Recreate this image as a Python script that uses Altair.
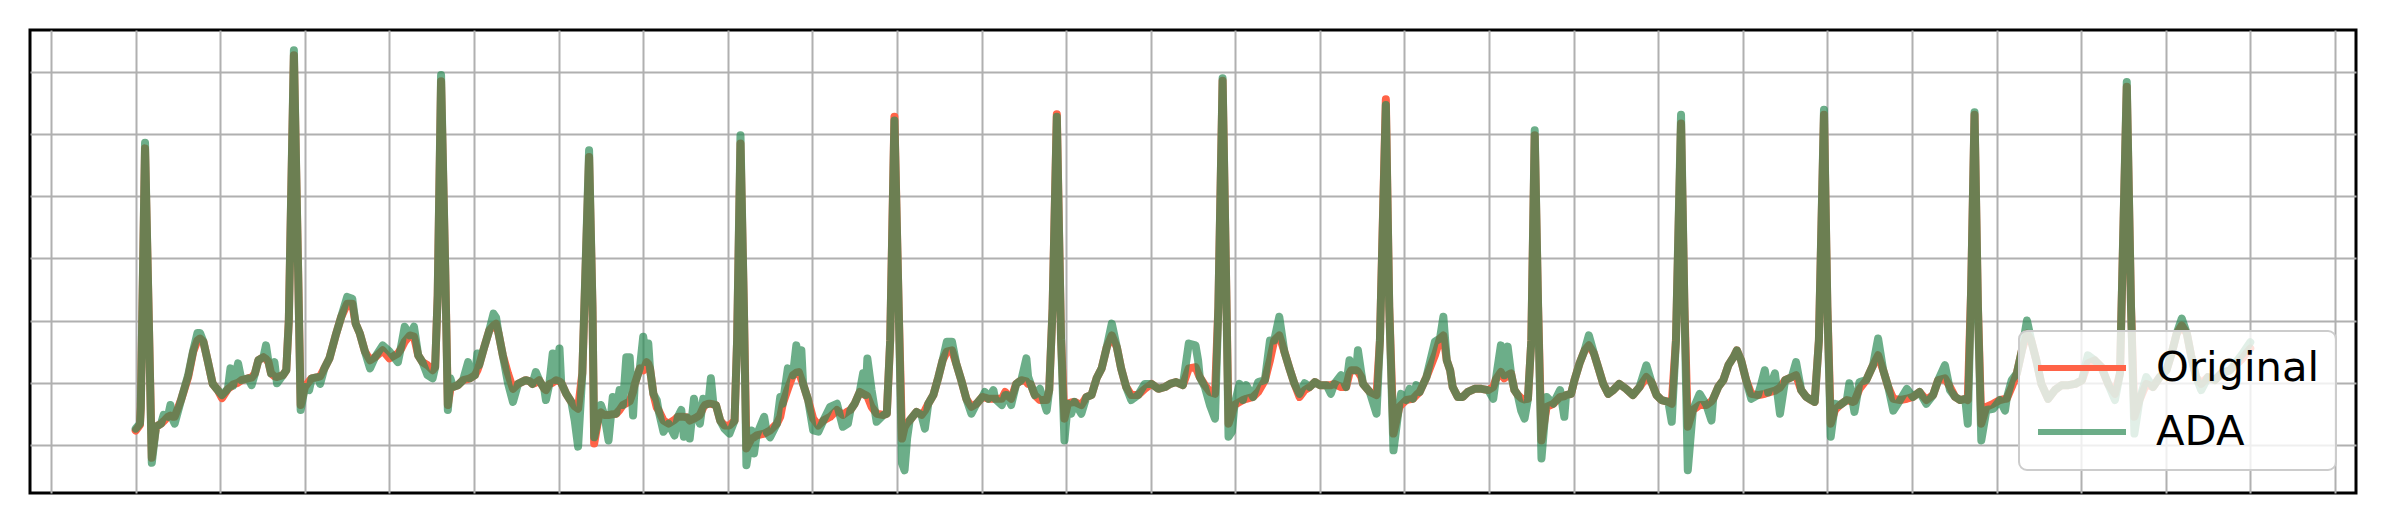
import altair as alt
import pandas as pd

# Sample index (x) and signal amplitude for the two series
X = [0, 5, 6, 11, 15, 19, 24, 30, 33, 38, 41, 44, 46, 54, 62, 68, 73, 76, 80, 85,
     91, 97, 102, 109, 112, 115, 121, 125, 133, 137, 141, 145, 151, 154, 157, 160, 164, 167, 174, 178,
     181, 187, 192, 195, 200, 205, 208, 215, 218, 223, 229, 237, 243, 250, 256, 260, 265, 271, 277, 283,
     292, 300, 310, 314, 318, 324, 329, 334, 339, 345, 351, 354, 357, 361, 366, 369, 372, 375, 381, 387,
     393, 395, 401, 404, 406, 412, 418, 423, 426, 429, 434, 440, 446, 452, 461, 466, 469, 473, 477, 483,
     485, 489, 493, 497, 501, 503, 509, 515, 519, 523, 528, 536, 540, 542, 548, 550, 554, 559, 564, 568,
     572, 576, 580, 584, 588, 590, 596, 600, 604, 606, 608, 612, 616, 618, 624, 630, 637, 641, 645, 648,
     652, 655, 660, 664, 667, 671, 673, 677, 680, 683, 686, 691, 696, 702, 708, 711, 715, 719, 722, 728,
     731, 734, 743, 746, 750, 758, 762, 765, 771, 777, 781, 784, 787, 789, 795, 801, 807, 813, 821, 829,
     836, 842, 845, 850, 856, 860, 863, 865, 870, 876, 884, 888, 892, 897, 902, 906, 909, 912, 915, 923,
     929, 933, 937, 943, 949, 954, 959, 965, 970, 976, 982, 988, 994, 1001, 1004, 1008, 1014, 1016, 1024, 1028,
     1030, 1035, 1041, 1047, 1053, 1055, 1058, 1063, 1069, 1077, 1080, 1084, 1089, 1094, 1098, 1102, 1106, 1110, 1118, 1124,
     1130, 1136, 1142, 1148, 1154, 1160, 1165, 1171, 1177, 1185, 1193, 1201, 1209, 1217, 1223, 1230, 1238, 1245, 1253, 1256,
     1258, 1264, 1270, 1276, 1280, 1285, 1289, 1292, 1296, 1299, 1305, 1309, 1313, 1321, 1327, 1335, 1341, 1346, 1352, 1358,
     1364, 1370, 1376, 1382, 1388, 1394, 1400, 1408, 1413, 1417, 1425, 1431, 1435, 1437, 1443, 1445, 1449, 1451, 1459, 1467,
     1471, 1478, 1482, 1487, 1494, 1496, 1502, 1506, 1510, 1514, 1518, 1526, 1536, 1542, 1546, 1550, 1554, 1557, 1563, 1569,
     1575, 1583, 1591, 1599, 1605, 1608, 1614, 1618, 1622, 1626, 1630, 1634, 1638, 1642, 1646, 1650, 1654, 1658, 1662, 1668,
     1676, 1684, 1689, 1691, 1697, 1701, 1707, 1713, 1718, 1724, 1729, 1735, 1741, 1747, 1754, 1762, 1770, 1778, 1786, 1792,
     1798, 1804, 1812, 1816, 1821, 1827, 1831, 1835, 1841, 1849, 1857, 1863, 1865, 1871, 1877, 1883, 1889, 1893, 1898, 1904,
     1910, 1918, 1922, 1926, 1930, 1938, 1944, 1950, 1958, 1963, 1969, 1975, 1981, 1985, 1990, 1996, 2000, 2004, 2009, 2015,
     2023, 2026, 2030, 2032, 2038, 2046, 2054, 2060, 2066, 2072, 2078, 2086, 2094, 2101, 2109, 2117, 2125, 2131, 2139, 2145,
     2151, 2157, 2163, 2166, 2170, 2174, 2178, 2182, 2188, 2196, 2204, 2210, 2212, 2218, 2224, 2230, 2236, 2241, 2247, 2253,
     2261, 2269, 2277, 2285, 2293, 2301, 2308, 2316, 2324, 2332, 2340, 2346, 2354, 2359, 2363, 2369, 2377, 2385, 2393, 2401,
     2407, 2413, 2419, 2425, 2430, 2436, 2442, 2450, 2458, 2466, 2476, 2490, 2500]

ORIGINAL = [0.23, 0.32, 0.60, 4.77, 2.30, -0.21, 0.29, 0.34, 0.38, 0.45, 0.47, 0.45, 0.45, 0.74, 1.09, 1.50, 1.68, 1.71, 1.66, 1.36,
            0.98, 0.88, 0.75, 0.90, 0.93, 0.97, 1.00, 1.04, 1.07, 1.08, 1.15, 1.36, 1.41, 1.38, 1.33, 1.15, 1.10, 1.09, 1.12, 1.20,
            2.00, 6.27, 2.80, 0.64, 0.93, 1.02, 1.07, 1.09, 1.10, 1.23, 1.39, 1.79, 2.06, 2.27, 2.27, 1.95, 1.79, 1.50, 1.36, 1.41,
            1.52, 1.39, 1.47, 1.55, 1.66, 1.76, 1.74, 1.44, 1.33, 1.28, 1.20, 1.25, 2.40, 5.85, 2.76, 0.64, 0.90, 0.93, 0.96, 1.04,
            1.06, 1.07, 1.12, 1.20, 1.28, 1.57, 1.84, 1.92, 1.95, 1.79, 1.44, 1.15, 0.90, 0.98, 1.04, 1.02, 0.98, 1.00, 1.04, 0.90,
            0.88, 0.98, 1.00, 1.04, 1.02, 1.00, 0.82, 0.69, 0.62, 0.58, 1.15, 4.63, 2.22, 0.02, 0.50, 0.52, 0.48, 0.48, 0.49, 0.50,
            0.56, 0.64, 0.67, 0.70, 0.85, 0.98, 1.23, 1.20, 1.33, 1.30, 1.23, 0.82, 0.60, 0.56, 0.39, 0.34, 0.40, 0.45, 0.45, 0.45,
            0.44, 0.39, 0.42, 0.45, 0.48, 0.60, 0.64, 0.66, 0.66, 0.65, 0.64, 0.39, 0.31, 0.31, 0.39, 1.68, 4.85, 2.22, -0.06, 0.10,
            0.12, 0.15, 0.18, 0.20, 0.23, 0.34, 0.45, 0.66, 0.90, 1.12, 1.16, 1.17, 1.05, 0.98, 0.72, 0.42, 0.31, 0.39, 0.45, 0.56,
            0.48, 0.54, 0.56, 0.66, 0.85, 0.82, 0.80, 0.78, 0.61, 0.50, 0.48, 0.50, 1.68, 5.28, 2.22, 0.10, 0.28, 0.35, 0.39, 0.53,
            0.48, 0.55, 0.66, 0.80, 1.09, 1.36, 1.50, 1.52, 1.31, 1.04, 0.74, 0.61, 0.66, 0.77, 0.76, 0.74, 0.74, 0.74, 0.74, 0.85,
            0.80, 0.74, 0.98, 1.04, 1.02, 0.98, 0.98, 0.80, 0.72, 0.72, 0.88, 2.20, 5.32, 1.70, 0.42, 0.66, 0.68, 0.69, 0.64, 0.77,
            0.80, 1.07, 1.23, 1.57, 1.76, 1.57, 1.23, 0.93, 0.80, 0.80, 0.90, 0.98, 0.90, 0.93, 0.98, 1.01, 0.96, 1.23, 1.25, 1.15,
            1.09, 0.96, 0.85, 0.82, 2.22, 5.86, 2.76, 0.34, 0.50, 0.64, 0.69, 0.72, 0.74, 0.77, 0.85, 1.04, 1.36, 1.68, 1.76, 1.50,
            1.23, 0.98, 0.77, 0.88, 0.93, 1.01, 0.96, 0.96, 0.96, 0.98, 0.93, 0.93, 1.15, 1.20, 1.20, 1.18, 1.09, 0.98, 0.85, 0.80,
            1.68, 5.56, 2.22, 0.18, 0.61, 0.64, 0.72, 0.73, 0.74, 0.80, 0.85, 1.09, 1.44, 1.71, 1.76, 1.36, 1.20, 0.93, 0.77, 0.77,
            0.85, 0.90, 0.90, 0.88, 0.93, 1.05, 1.17, 1.07, 1.12, 1.15, 0.88, 0.80, 0.75, 0.73, 0.74, 1.68, 4.98, 2.22, 0.07, 0.61,
            0.66, 0.77, 0.78, 0.80, 0.82, 1.04, 1.31, 1.52, 1.60, 1.47, 1.25, 0.98, 0.82, 0.88, 0.98, 0.90, 0.80, 0.93, 1.09, 1.01,
            0.80, 0.72, 0.69, 0.66, 1.68, 5.17, 2.22, 0.29, 0.56, 0.64, 0.64, 0.70, 0.74, 0.93, 1.04, 1.28, 1.41, 1.52, 1.36, 1.04,
            0.82, 0.80, 0.81, 0.82, 0.84, 0.87, 0.92, 1.04, 1.09, 1.12, 0.88, 0.77, 0.72, 0.69, 1.68, 5.31, 2.22, 0.34, 0.56, 0.64,
            0.72, 0.71, 0.69, 0.70, 0.90, 1.04, 1.28, 1.44, 1.20, 0.93, 0.74, 0.72, 0.74, 0.77, 0.85, 0.72, 0.80, 1.04, 1.07, 0.93,
            0.77, 0.72, 0.74, 0.72, 2.50, 5.31, 2.22, 0.34, 0.61, 0.66, 0.72, 0.74, 0.74, 0.93, 1.15, 1.52, 1.79, 1.68, 1.36, 0.98,
            0.74, 0.88, 0.96, 0.96, 0.98, 1.04, 1.31, 1.36, 1.25, 0.98, 0.82, 1.15, 5.76, 2.22, 0.45, 0.72, 0.98, 0.93, 1.09, 1.20,
            1.47, 1.79, 1.92, 1.79, 1.44, 1.09, 0.98, 1.09, 1.04, 1.15, 1.20, 1.38, 1.55]

ADA = [0.26, 0.34, 0.60, 4.86, 2.30, -0.29, 0.29, 0.34, 0.48, 0.45, 0.64, 0.40, 0.34, 0.74, 1.12, 1.52, 1.80, 1.80, 1.66, 1.36,
       0.98, 0.88, 0.80, 0.90, 1.23, 0.95, 1.31, 1.04, 1.07, 0.96, 1.15, 1.36, 1.41, 1.60, 1.33, 1.15, 1.33, 0.99, 1.12, 1.20,
       2.00, 6.35, 2.80, 0.56, 0.93, 0.88, 1.07, 1.09, 0.98, 1.23, 1.39, 1.79, 2.06, 2.38, 2.35, 1.95, 1.79, 1.50, 1.23, 1.41,
       1.60, 1.50, 1.33, 1.60, 1.90, 1.76, 1.90, 1.44, 1.33, 1.12, 1.07, 1.25, 2.40, 5.95, 2.76, 0.56, 1.07, 0.93, 0.96, 1.04,
       1.33, 1.07, 1.12, 1.47, 1.28, 1.57, 1.84, 2.11, 2.05, 1.79, 1.44, 1.00, 0.69, 0.98, 1.04, 1.02, 0.98, 1.17, 1.04, 0.90,
       0.72, 0.98, 1.47, 1.04, 1.55, 1.00, 0.82, 0.69, 0.39, -0.03, 1.15, 4.74, 2.22, 0.12, 0.50, 0.64, 0.48, 0.07, 0.77, 0.50,
       0.88, 0.64, 1.41, 1.41, 0.47, 0.98, 1.23, 1.74, 1.33, 1.63, 1.23, 0.82, 0.72, 0.56, 0.21, 0.34, 0.15, 0.45, 0.56, 0.13,
       0.44, 0.10, 0.74, 0.45, 0.34, 0.74, 0.64, 0.66, 1.07, 0.65, 0.64, 0.39, 0.26, 0.18, 0.39, 1.68, 4.98, 2.22, -0.33, 0.23,
       -0.14, 0.15, 0.45, 0.20, 0.12, 0.34, 0.77, 0.66, 1.23, 1.12, 1.60, 1.17, 1.52, 0.98, 0.72, 0.23, 0.21, 0.39, 0.61, 0.66,
       0.29, 0.34, 0.56, 0.66, 0.85, 1.15, 0.80, 1.39, 0.88, 0.37, 0.48, 0.50, 1.68, 5.22, 2.22, -0.30, -0.41, 0.10, 0.39, 0.53,
       0.48, 0.26, 0.66, 0.80, 1.09, 1.36, 1.66, 1.66, 1.31, 1.04, 0.74, 0.50, 0.66, 0.77, 0.85, 0.74, 0.88, 0.74, 0.64, 0.80,
       0.80, 0.64, 0.98, 1.04, 1.39, 1.10, 0.98, 0.80, 0.90, 0.55, 0.88, 2.20, 5.28, 1.70, 0.07, 0.66, 0.50, 0.69, 0.50, 0.77,
       0.80, 1.07, 1.23, 1.57, 1.95, 1.57, 1.23, 0.93, 0.72, 0.80, 0.98, 0.98, 0.90, 0.93, 0.98, 1.01, 0.96, 1.63, 1.60, 1.36,
       1.09, 0.93, 0.64, 0.42, 2.22, 5.90, 2.76, 0.13, 0.21, 0.64, 0.98, 0.72, 0.96, 0.77, 1.01, 1.04, 1.68, 1.68, 2.06, 1.50,
       1.23, 0.98, 0.82, 0.99, 0.93, 1.01, 0.96, 0.96, 0.82, 0.98, 1.12, 0.93, 1.36, 1.20, 1.20, 1.52, 1.15, 0.98, 0.85, 0.50,
       1.68, 5.47, 2.22, -0.09, 0.66, 0.82, 0.72, 0.90, 0.74, 0.96, 0.85, 1.09, 1.66, 1.71, 2.06, 1.36, 1.20, 0.93, 0.77, 0.77,
       0.85, 0.90, 0.90, 0.88, 0.74, 1.05, 1.60, 1.12, 1.58, 1.15, 0.88, 0.80, 0.55, 0.42, 0.74, 1.68, 5.06, 2.22, -0.22, 0.77,
       0.66, 0.88, 0.45, 0.80, 0.82, 1.04, 1.31, 1.52, 1.76, 1.47, 1.25, 0.98, 0.82, 0.88, 0.98, 0.90, 0.80, 0.93, 1.28, 1.01,
       0.80, 0.72, 0.69, 0.37, 1.68, 5.31, 2.22, -0.41, 0.56, 0.82, 0.64, 0.39, 0.74, 0.93, 1.04, 1.28, 1.41, 1.52, 1.36, 1.04,
       0.74, 0.80, 0.99, 1.20, 0.84, 1.15, 0.50, 1.04, 1.09, 1.33, 0.88, 0.77, 0.72, 0.69, 1.68, 5.39, 2.22, 0.13, 0.66, 0.64,
       0.72, 0.99, 0.69, 0.53, 1.01, 1.04, 1.28, 1.71, 1.20, 0.93, 0.55, 0.72, 0.90, 0.77, 0.85, 0.66, 0.80, 1.04, 1.28, 0.88,
       0.77, 0.72, 0.74, 0.34, 2.50, 5.35, 2.22, 0.07, 0.56, 0.58, 0.72, 0.55, 0.74, 1.04, 1.15, 1.52, 2.00, 1.68, 1.36, 0.98,
       0.74, 0.88, 0.96, 0.96, 0.98, 1.04, 1.44, 1.36, 1.25, 0.98, 0.72, 1.15, 5.84, 2.22, 0.18, 0.72, 1.09, 0.93, 1.09, 1.20,
       1.47, 1.79, 2.03, 1.79, 1.44, 1.09, 0.88, 1.09, 1.04, 1.15, 1.20, 1.45, 1.65]

SERIES = ["Original", "ADA"]
COLORS = ["#ff6347", "#2e8b57"]
OPACITIES = [1.0, 0.7]
X_TICKS = list(range(-100, 2700, 100))
Y_TICKS = [0, 1, 2, 3, 4, 5, 6]

df = pd.DataFrame({"x": X, "Original": ORIGINAL, "ADA": ADA})
long_df = df.melt(id_vars="x", value_vars=SERIES, var_name="series", value_name="value")

legend = alt.Legend(
    title=None, orient="none", legendX=1989, legendY=301,
    symbolType="stroke", symbolSize=7744, symbolStrokeWidth=6,
    labelFont="DejaVu Sans", labelFontSize=41.7, labelColor="black", labelOffset=27,
    labelLimit=0, padding=16, rowPadding=21, clipHeight=42,
    fillColor="rgba(255,255,255,0.8)", strokeColor="#cccccc", cornerRadius=8,
)

grid_axis = dict(labels=False, ticks=False, domain=False, title=None, grid=True,
                 gridColor="#b0b0b0", gridWidth=2)

base = alt.Chart(long_df).mark_line(strokeWidth=8, strokeJoin="round", strokeCap="round").encode(
    x=alt.X("x:Q", scale=alt.Scale(domain=[-125, 2625], nice=False, zero=False),
            axis=alt.Axis(values=X_TICKS, **grid_axis)),
    y=alt.Y("value:Q", scale=alt.Scale(domain=[-0.776, 6.675], nice=False, zero=False),
            axis=alt.Axis(values=Y_TICKS, **grid_axis)),
    color=alt.Color("series:N", scale=alt.Scale(domain=SERIES, range=COLORS), legend=legend),
    opacity=alt.Opacity("series:N", scale=alt.Scale(domain=SERIES, range=OPACITIES), legend=legend),
)

chart = alt.layer(
    base.transform_filter(alt.datum.series == "Original"),
    base.transform_filter(alt.datum.series == "ADA"),
).properties(
    width=2326, height=463,
    autosize=alt.AutoSizeParams(type="none"),
    padding={"left": 22, "top": 22, "right": 7, "bottom": 7},
).configure_view(stroke="black", strokeWidth=3).configure_legend(strokeWidth=2)

chart.save("out.html", embed_options={"renderer": "svg", "actions": False})
